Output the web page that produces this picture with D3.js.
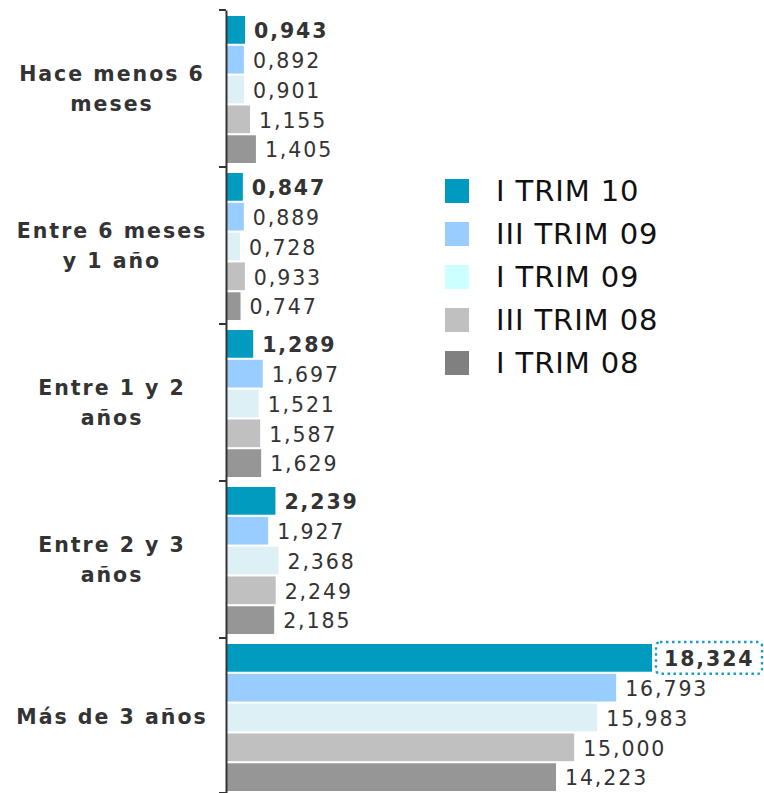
<!DOCTYPE html>
<html>
<head>
<meta charset="utf-8">
<script src="https://cdn.jsdelivr.net/npm/d3@7"></script>
<style>
  body { margin: 0; background: #fff; }
  text { font-family: "DejaVu Sans", Verdana, sans-serif; }
</style>
</head>
<body>
<svg id="chart" width="764" height="793"></svg>
<script>
const categories = [['Hace menos 6', 'meses'], ['Entre 6 meses', 'y 1 año'], ['Entre 1 y 2', 'años'], ['Entre 2 y 3', 'años'], ['Más de 3 años']]
const seriesNames = ['I TRIM 10', 'III TRIM 09', 'I TRIM 09', 'III TRIM 08', 'I TRIM 08']
const trim10 = [0.943, 0.847, 1.289, 2.239, 18.324]
const trim309 = [0.892, 0.889, 1.697, 1.927, 16.793]
const trim109 = [0.901, 0.728, 1.521, 2.368, 15.983]
const trim308 = [1.155, 0.933, 1.587, 2.249, 15.000]
const trim108 = [1.405, 0.747, 1.629, 2.185, 14.223]
const barColors = ['#009bbe', '#99ccff', '#dcf0f5', '#c0c0c0', '#969696']
const legendColors = ['#0099c0', '#99ccff', '#ccffff', '#c0c0c0', '#808080']

const seriesValues = [trim10, trim309, trim109, trim308, trim108]
const data = categories.map((c, i) => ({
    key: c.join(' '),
    lines: c,
    values: seriesValues.map((s, j) => ({ series: seriesNames[j], idx: j, value: s[i] }))
}))

const svg = d3.select('#chart')
const axisX = 226

const scaleY = d3.scaleBand().domain(data.map(d => d.key)).range([10, 795]).padding(0)
const scaleInner = d3.scaleBand().domain(seriesNames).range([6, scaleY.bandwidth() - 4]).paddingInner(0.07)
const scaleX = d3.scaleLinear().domain([0.17, 18.324]).range([axisX + 1, 652])
const fmt = v => v.toFixed(3).replace('.', ',')

const groups = svg.selectAll('g.cat').data(data).join('g')
    .attr('class', 'cat')
    .attr('transform', d => `translate(0, ${scaleY(d.key)})`)

groups.selectAll('rect').data(d => d.values).join('rect')
    .attr('x', scaleX.range()[0])
    .attr('y', d => scaleInner(d.series))
    .attr('width', d => scaleX(d.value) - scaleX.range()[0])
    .attr('height', scaleInner.bandwidth())
    .attr('fill', d => barColors[d.idx])

groups.selectAll('text.val').data(d => d.values).join('text')
    .attr('class', 'val')
    .attr('x', d => scaleX(d.value) + (d.value > 18 ? 12 : 9))
    .attr('y', d => scaleInner(d.series) + scaleInner.bandwidth() / 2)
    .attr('dy', '0.4em')
    .attr('font-size', 20.5)
    .attr('letter-spacing', 1.9)
    .attr('font-weight', d => d.idx === 0 ? 'bold' : 'normal')
    .attr('fill', '#333')
    .text(d => fmt(d.value))

// dotted highlight around the biggest value
const maxBar = data[4].values[0]
const maxY = scaleY(data[4].key) + scaleInner(maxBar.series)
svg.append('rect')
    .attr('x', scaleX(maxBar.value) + 4)
    .attr('y', maxY - 2)
    .attr('width', 106)
    .attr('height', scaleInner.bandwidth() + 4)
    .attr('rx', 4)
    .attr('fill', 'none')
    .attr('stroke', '#1a9cc4')
    .attr('stroke-width', 2.4)
    .attr('stroke-dasharray', '2.5 3.5')

// category labels
groups.append('text')
    .attr('text-anchor', 'middle')
    .attr('font-size', 20.5)
    .attr('font-weight', 'bold')
    .attr('letter-spacing', 2)
    .attr('fill', '#333')
    .selectAll('tspan').data(d => d.lines.map((l, i) => ({ l, i, n: d.lines.length }))).join('tspan')
    .attr('x', 112)
    .attr('y', d => scaleY.bandwidth() / 2 + (d.i - (d.n - 1) / 2) * 30)
    .attr('dy', '0.36em')
    .text(d => d.l)

// axis
const axisY = d3.axisLeft(scaleY).tickSize(0).tickFormat('')
svg.append('g')
    .attr('transform', `translate(${axisX}, 0)`)
    .call(axisY)
    .call(g => g.select('.domain').attr('stroke', '#333').attr('stroke-width', 2))
svg.append('g').selectAll('line')
    .data(data.map(d => scaleY(d.key)).concat([scaleY.range()[1] - 2]))
    .join('line')
    .attr('x1', axisX - 7).attr('x2', axisX)
    .attr('y1', d => d).attr('y2', d => d)
    .attr('stroke', '#333').attr('stroke-width', 2)

// legend
const legend = svg.append('g').attr('transform', 'translate(445, 179)')
const legRow = legend.selectAll('g').data(seriesNames).join('g')
    .attr('transform', (d, i) => `translate(0, ${i * 43})`)
legRow.append('rect')
    .attr('width', 24).attr('height', 24)
    .attr('fill', (d, i) => legendColors[i])
legRow.append('text')
    .attr('x', 51).attr('y', 12).attr('dy', '0.36em')
    .attr('font-size', 29)
    .attr('letter-spacing', 0.9)
    .attr('fill', '#111')
    .text(d => d)
</script>
</body>
</html>
